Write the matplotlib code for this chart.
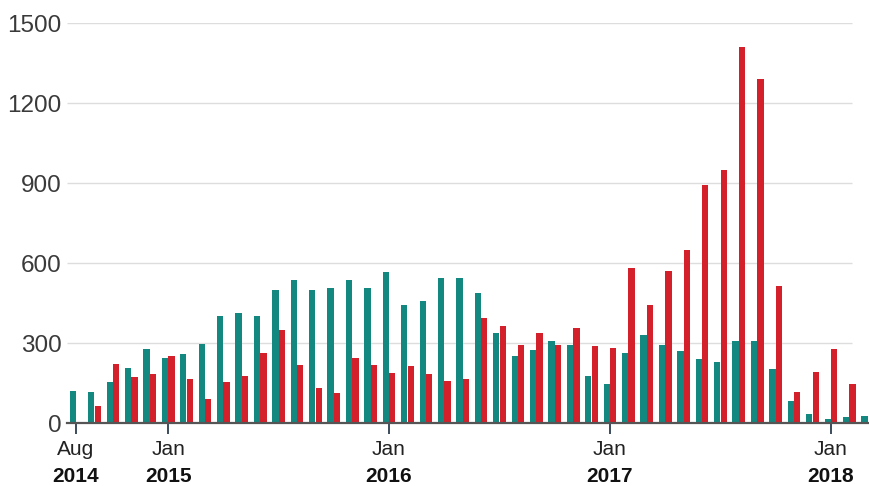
import numpy as np
import matplotlib
matplotlib.use("Agg")
from matplotlib import pyplot as plt
from matplotlib import transforms

plt.rcParams['font.family'] = ['Liberation Sans', 'DejaVu Sans']

# Monthly values, Aug 2014 .. Mar 2018
teal = [120, 115, 152, 207, 276,
        245, 259, 296, 401, 414, 401, 499, 536, 499, 505, 536, 505,
        567, 444, 456, 542, 542, 486, 337, 250, 275, 306, 294, 176,
        145, 262, 331, 294, 271, 240, 227, 307, 307, 202, 84, 34,
        15, 21, 27]
red = [0, 65, 222, 171, 182,
       250, 165, 91, 152, 176, 264, 350, 219, 132, 114, 245, 219,
       187, 214, 182, 157, 164, 394, 362, 294, 339, 294, 356, 287,
       281, 580, 444, 570, 650, 894, 949, 1409, 1290, 512, 115, 190,
       277, 146, 0]
tick_idx = [0, 5, 17, 29, 41]
tick_months = ['Aug', 'Jan', 'Jan', 'Jan', 'Jan']
tick_years = ['2014', '2015', '2016', '2017', '2018']
yticks = [0, 300, 600, 900, 1200, 1500]

teal_color = '#138880'
red_color = '#d4202b'

fig = plt.figure(figsize=(8.7, 4.86), dpi=100)
ax = fig.add_axes([67 / 870, 63 / 486, 803 / 870, 400 / 486])

x = np.arange(len(teal))
w = 0.34
ax.bar(x - 0.17, teal, width=w, color=teal_color, linewidth=0, zorder=3)
ax.bar(x + 0.18, red, width=w, color=red_color, linewidth=0, zorder=3)

ax.set_xlim(-0.49, 43.13)
ax.set_ylim(0, 1500)

# gridlines stop short of the right edge
ax.hlines(yticks[1:], -0.49, 42.15, color='#dddddd', linewidth=1, zorder=1)

for s in ['top', 'right', 'left']:
    ax.spines[s].set_visible(False)
ax.spines['bottom'].set_color('#555555')
ax.spines['bottom'].set_linewidth(1.6)
ax.spines['bottom'].set_zorder(4)

ax.set_yticks(yticks)
ax.set_yticklabels([str(v) for v in yticks])
ax.tick_params(axis='y', length=0, pad=4, labelsize=17.5, labelcolor='#3a3a3a')

ax.set_xticks(tick_idx)
ax.set_xticklabels(tick_months)
ax.tick_params(axis='x', length=8, width=1.3, color='#2c3e50', pad=4,
               labelsize=15, labelcolor='#222222')

trans = transforms.blended_transform_factory(ax.transData, ax.transAxes)
for i, yr in zip(tick_idx, tick_years):
    ax.text(i, -0.11, yr, transform=trans, ha='center', va='top',
            fontsize=15, fontweight='bold', color='#111111')

fig.savefig('out.png', dpi=100)
